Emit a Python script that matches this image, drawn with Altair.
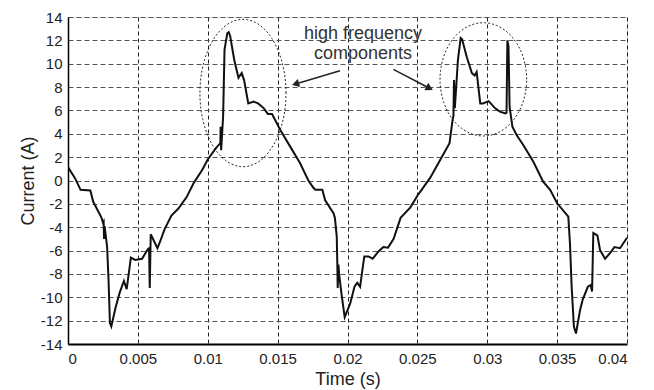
import altair as alt
import numpy as np
import pandas as pd

# Current waveform (time in s, current in A)
time_s = [0.0000, 0.0005, 0.0009, 0.0016, 0.0018, 0.0024, 0.0025, 0.00255, 0.00258, 0.00262,
          0.0028, 0.0029, 0.0030, 0.0031, 0.0034, 0.0037, 0.0040, 0.0042, 0.0045, 0.0048,
          0.0053, 0.0057, 0.0058, 0.00585, 0.00592, 0.0064, 0.0066, 0.0069, 0.0074, 0.0079,
          0.0085, 0.0090, 0.0096, 0.0100, 0.0106, 0.0109, 0.01092, 0.01096, 0.0110, 0.0111,
          0.0112, 0.0114, 0.0115, 0.0116, 0.0119, 0.0122, 0.01243, 0.0126, 0.0129, 0.0133,
          0.0136, 0.0140, 0.0143, 0.0146, 0.0152, 0.0159, 0.0166, 0.0172, 0.01755, 0.0177,
          0.0182, 0.0184, 0.0190, 0.0191, 0.01923, 0.01927, 0.0193, 0.01935, 0.0194, 0.01957,
          0.0198, 0.0202, 0.0205, 0.0207, 0.0209, 0.0212, 0.0215, 0.0218, 0.0222, 0.02256,
          0.0229, 0.0233, 0.0238, 0.0245, 0.0250, 0.0253, 0.0259, 0.0266, 0.0273, 0.02752,
          0.02758, 0.02762, 0.02768, 0.0279, 0.0281, 0.0282, 0.02853, 0.0289, 0.0291, 0.02924,
          0.0295, 0.0297, 0.0301, 0.03055, 0.0309, 0.0313, 0.03138, 0.03144, 0.03152, 0.0316,
          0.0318, 0.0321, 0.0326, 0.0333, 0.0340, 0.0345, 0.0350, 0.0358, 0.03592, 0.03604,
          0.0362, 0.03635, 0.03664, 0.03683, 0.0372, 0.0374, 0.0375, 0.03759, 0.03788, 0.03807,
          0.03843, 0.0388, 0.0391, 0.0395, 0.0400]
current_a = [1.15, 0.2, -0.8, -0.85, -1.8, -3.2, -3.6, -3.5, -5.0, -3.9,
             -5.7, -8.5, -12.2, -12.5, -10.9, -9.6, -8.6, -9.3, -6.6, -6.8,
             -6.7, -5.9, -5.8, -9.2, -4.6, -5.8, -5.2, -4.2, -3.0, -2.4,
             -1.4, -0.2, 0.9, 1.8, 2.8, 3.2, 4.6, 2.6, 3.4, 5.5,
             11.2, 12.6, 12.7, 12.4, 10.3, 8.8, 9.2, 8.6, 6.6, 6.75,
             6.6, 6.2, 5.7, 5.7, 4.3, 2.9, 1.5, 0.0, -0.6, -0.8,
             -0.8, -1.7, -2.8, -3.2, -4.8, -7.1, -9.2, -7.2, -8.0, -9.7,
             -11.7, -10.5, -9.1, -8.75, -9.1, -6.5, -6.5, -6.7, -6.1, -5.7,
             -5.75, -5.0, -3.2, -2.3, -1.3, -0.8, 0.2, 1.7, 3.2, 5.2,
             5.5, 8.6, 6.2, 10.3, 12.2, 12.1, 10.6, 9.2, 9.0, 9.3,
             6.6, 6.6, 6.8, 6.2, 5.9, 5.75, 5.8, 12.0, 11.5, 6.3,
             4.6, 3.9, 3.0, 1.6, -0.1, -0.8, -1.95, -3.1, -5.4, -9.1,
             -12.5, -13.1, -11.1, -10.2, -9.1, -8.95, -9.5, -4.5, -4.7, -5.95,
             -6.7, -6.2, -5.7, -5.8, -4.9]

x_ticks = [0, 0.005, 0.01, 0.015, 0.02, 0.025, 0.03, 0.035, 0.04]
y_ticks = [-14, -12, -10, -8, -6, -4, -2, 0, 2, 4, 6, 8, 10, 12, 14]

# Annotation: dotted ellipses (center t, center I, radius t, radius I)
ellipses = [(0.01252, 7.49, 0.00308, 6.31), (0.02972, 8.66, 0.0031, 4.85)]
# Arrows: start (t, I) -> head (t, I), head angle
arrow_start_t = [0.01946, 0.02328]
arrow_start_i = [9.40, 9.52]
arrow_end_t = [0.01628, 0.02587]
arrow_end_i = [8.27, 7.90]
arrow_angle = [253.5, 117.5]
label_lines = ["high frequency", "components"]
label_t = [0.02111, 0.02111]
label_i = [12.09, 10.38]

FONT = "Liberation Sans"

df = pd.DataFrame({"t": time_s, "i": current_a, "o": range(len(time_s))})

xs = alt.Scale(domain=[0, 0.04], nice=False, zero=False)
ys = alt.Scale(domain=[-14, 14], nice=False, zero=False)

x_axis = alt.Axis(values=x_ticks, labelExpr="toString(datum.value)", title="Time (s)",
                  grid=True, gridColor="#222", gridDash=[4, 3], gridWidth=1,
                  ticks=False, domainColor="#000", domainWidth=2, labelOverlap=False,
                  labelFont=FONT, labelFontSize=15, labelColor="#222", labelPadding=7,
                  titleFont=FONT, titleFontSize=18, titleFontWeight="normal", titleColor="#222",
                  titleY=40, titleBaseline="alphabetic")
y_axis = alt.Axis(values=y_ticks, labelExpr="toString(datum.value)", title="Current (A)",
                  grid=True, gridColor="#555", gridDash=[5, 3], gridWidth=1,
                  ticks=False, domainColor="#000", domainWidth=1.5, labelOverlap=False,
                  labelFont=FONT, labelFontSize=15, labelColor="#222", labelPadding=6,
                  titleFont=FONT, titleFontSize=18, titleFontWeight="normal", titleColor="#222",
                  titleX=-40, titleY=163.5, titleBaseline="middle", titleAlign="center", titleAngle=-90)

X = lambda f: alt.X(f, scale=xs, axis=x_axis, title="Time (s)")
Y = lambda f: alt.Y(f, scale=ys, axis=y_axis, title="Current (A)")

line = alt.Chart(df).mark_line(color="#111", strokeWidth=2, clip=True).encode(
    x=X("t:Q"), y=Y("i:Q"), order="o:Q")

ell_rows = []
theta = np.linspace(0, 2 * np.pi, 121)
for k, (ct, ci, rt, ri) in enumerate(ellipses):
    for j, th in enumerate(theta):
        ell_rows.append({"t": ct + rt * np.cos(th), "i": ci + ri * np.sin(th), "e": k, "o": j})
edf = pd.DataFrame(ell_rows)
ell = alt.Chart(edf).mark_line(color="#222", strokeWidth=1, strokeDash=[2, 2]).encode(
    x=X("t:Q"), y=Y("i:Q"), detail="e:N", order="o:Q")

adf = pd.DataFrame({"t": arrow_start_t, "i": arrow_start_i, "t2": arrow_end_t,
                    "i2": arrow_end_i, "a": arrow_angle})
arrow_lines = alt.Chart(adf).mark_rule(color="#222", strokeWidth=1.5).encode(
    x=X("t:Q"), y=Y("i:Q"), x2="t2:Q", y2="i2:Q")
arrow_heads = alt.Chart(adf).mark_point(shape="triangle-up", filled=True, color="#222",
                                        size=70, opacity=1).encode(
    x=X("t2:Q"), y=Y("i2:Q"), angle=alt.Angle("a:Q", scale=None))

ldf = pd.DataFrame({"t": label_t, "i": label_i, "s": label_lines})
labels = alt.Chart(ldf).mark_text(font=FONT, fontSize=18, color="#333", align="center",
                                  baseline="alphabetic").encode(
    x=X("t:Q"), y=Y("i:Q"), text="s:N")

chart = alt.layer(line, ell, arrow_lines, arrow_heads, labels).properties(
    width=559, height=327,
    autosize=alt.AutoSizeParams(type="none"),
    padding={"left": 60, "top": 9, "right": 19, "bottom": 46},
).configure_view(stroke="#000", strokeWidth=1.5).configure(background="white")

chart.save("out.html", embed_options={"renderer": "svg", "actions": False})
